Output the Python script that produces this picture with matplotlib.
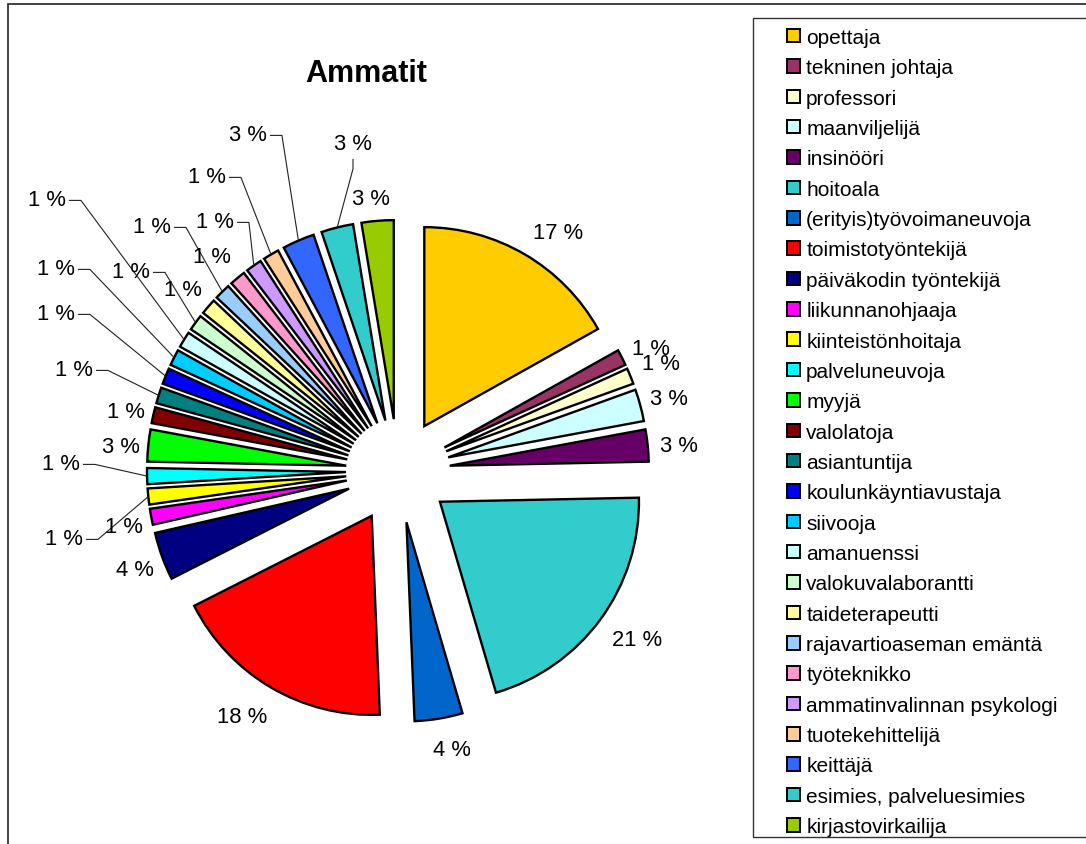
import matplotlib
matplotlib.use("Agg")
import matplotlib.pyplot as plt
from matplotlib.patches import Rectangle
import numpy as np

# ---------------- data ----------------
title = "Ammatit"
categories = [
    "opettaja", "tekninen johtaja", "professori", "maanviljelijä", "insinööri",
    "hoitoala", "(erityis)työvoimaneuvoja", "toimistotyöntekijä",
    "päiväkodin työntekijä", "liikunnanohjaaja", "kiinteistönhoitaja",
    "palveluneuvoja", "myyjä", "valolatoja", "asiantuntija",
    "koulunkäyntiavustaja", "siivooja", "amanuenssi", "valokuvalaborantti",
    "taideterapeutti", "rajavartioaseman emäntä", "työteknikko",
    "ammatinvalinnan psykologi", "tuotekehittelijä", "keittäjä",
    "esimies, palveluesimies", "kirjastovirkailija",
]
counts = [13, 1, 1, 2, 2, 16, 3, 14, 3, 1, 1, 1, 2, 1, 1, 1, 1, 1, 1, 1, 1, 1, 1, 1, 2, 2, 2]
colors = [
    "#FFCC00", "#993366", "#FFFFCC", "#CCFFFF", "#660066", "#33CCCC", "#0066CC",
    "#FF0000", "#000080", "#FF00FF", "#FFFF00", "#00FFFF", "#00FF00", "#800000",
    "#008080", "#0000FF", "#00CCFF", "#CCFFFF", "#CCFFCC", "#FFFF99", "#99CCFF",
    "#FF99CC", "#CC99FF", "#FFCC99", "#3366FF", "#33CCCC", "#99CC00",
]

# ---------------- layout (pixels, y downward) ----------------
W, H = 1086, 845
CX, CY, R, EXPL = 398, 472, 199, 52
# label glyph centres and leader style per slice
label_pos = [
    (558, 231), (651, 347), (661, 362), (669, 397), (679, 444), (637, 638),
    (452, 748), (242, 715), (135, 568), (124, 525), (64, 537), (61, 462),
    (121, 445), (126, 410), (74, 368), (56, 312), (56, 267), (47, 198),
    (131, 270), (183, 288), (152, 225), (212, 255), (215, 220), (207, 175),
    (248, 133), (353, 142), (371, 197),
]
leader = [None] * 10 + ["h", "h", None, None, "h", "h", "h", "h", "h", None,
                        "h", None, "h", "h", "h", "v", None]

FONT = "Liberation Sans"
plt.rcParams["font.family"] = [FONT, "DejaVu Sans"]

fig = plt.figure(figsize=(W / 100, H / 100), dpi=100)
ax = fig.add_axes([0, 0, 1, 1])


def P(x, y):
    return x, H - y


wedges, _ = ax.pie(
    counts, colors=colors, startangle=90, counterclock=False,
    radius=R, center=P(CX, CY), explode=[EXPL] * len(counts),
    wedgeprops=dict(edgecolor="black", linewidth=1.7),
)
ax.set_xlim(0, W)
ax.set_ylim(0, H)
ax.set_aspect("equal")
ax.axis("off")

total = sum(counts)
texts = []
for c, (lx, ly) in zip(counts, label_pos):
    t = ax.text(*P(lx, ly + 7.9), f"{100 * c / total:.0f} %", ha="center",
                va="baseline", fontsize=15.8, color="black")
    texts.append(t)

fig.canvas.draw()
rend = fig.canvas.get_renderer()
for w, t, style in zip(wedges, texts, leader):
    if style is None:
        continue
    thm = np.deg2rad(0.5 * (w.theta1 + w.theta2))
    ax_ = w.center[0] + w.r * np.cos(thm)
    ay_ = w.center[1] + w.r * np.sin(thm)
    bb = t.get_window_extent(rend)
    if style == "h":
        ymid = bb.y0 + 0.5 * bb.height - 1
        xs = [bb.x1 + 3, bb.x1 + 15, ax_]
        ys = [ymid, ymid, ay_]
    else:
        xm = 0.5 * (bb.x0 + bb.x1)
        xs = [xm, xm, ax_]
        ys = [bb.y0 - 5, bb.y0 - 15, ay_]
    ax.plot(xs, ys, color="#222222", lw=0.8, solid_capstyle="butt")

ax.text(*P(366.5, 82), title, ha="center", va="baseline", fontsize=22,
        fontweight="bold")

# legend
leg = ax.legend(
    wedges, categories, loc="upper left",
    bbox_to_anchor=(787 / W, 1 - 29 / H), bbox_transform=fig.transFigure,
    frameon=False, fontsize=15, borderpad=0, borderaxespad=0,
    handlelength=0.62, handleheight=0.62, handletextpad=0.3,
    labelspacing=0.545,
)
for h in leg.legend_handles:
    h.set_linewidth(1.4)

# legend frame and chart border
ax.add_patch(Rectangle(P(753, 838), 1100 - 753, 838 - 19, fill=False,
                       edgecolor="#333333", lw=1.0, clip_on=False))
ax.add_patch(Rectangle(P(8, 852), 1100 - 8, 852 - 5, fill=False,
                       edgecolor="#333333", lw=1.3, clip_on=False))

fig.savefig("out.png", dpi=100)
